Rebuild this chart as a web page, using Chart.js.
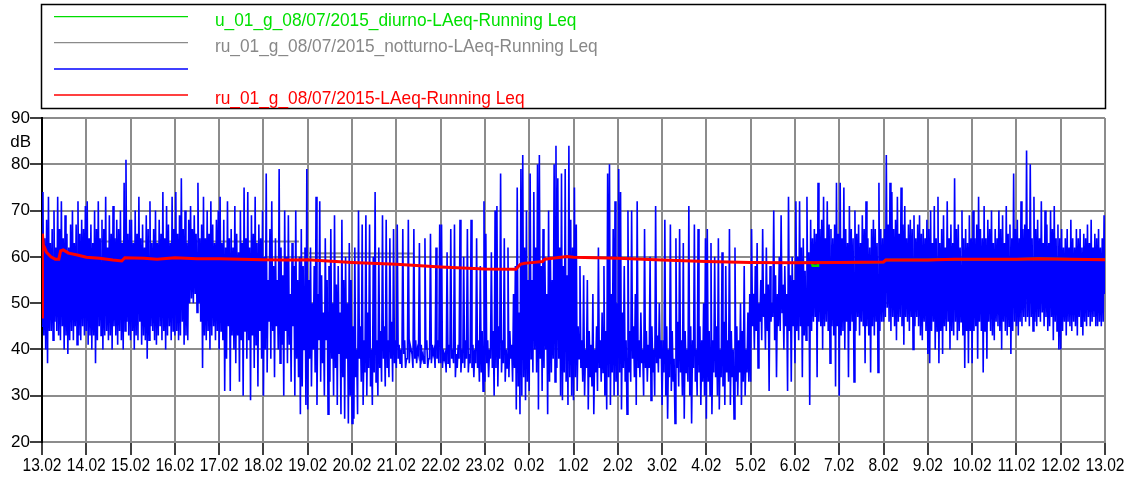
<!DOCTYPE html>
<html><head><meta charset="utf-8">
<script src="https://cdn.jsdelivr.net/npm/chart.js@4/dist/chart.umd.min.js"></script>
<style>html,body{margin:0;padding:0;background:#fff}#wrap{width:1137px;height:479px;position:relative}</style>
</head><body><div id="wrap"><canvas id="c" width="1137" height="479"></canvas></div>
<script>
// ---- data ----
const tickLabels = ['13.02','14.02','15.02','16.02','17.02','18.02','19.02','20.02','21.02','22.02','23.02','0.02',
  '1.02','2.02','3.02','4.02','5.02','6.02','7.02','8.02','9.02','10.02','11.02','12.02','13.02'];
const seriesLabels = ['u_01_g_08/07/2015_diurno-LAeq-Running Leq','ru_01_g_08/07/2015_notturno-LAeq-Running Leq','','ru_01_g_08/07/2015-LAeq-Running Leq'];
const yTicksDb = [20,30,40,50,60,70,80,90];
const unitLabel = 'dB';
const blueSamplesPerHour = 48;
const blueLevels = [
45,74,43,64,40,68,37,73,44,63,44,66,42,70,46,62,44,73,43,66,42,72,45,64,40,69,43,65,39,62,42,67,44,70,42,63,45,67,41,72,43,65,42,68,45,66,43,71,
44,72,41,64,43,67,40,63,43,70,37,66,42,72,45,64,43,68,40,66,43,73,44,62,42,69,43,65,40,71,45,64,43,68,41,66,44,70,42,63,40,76,44,81,46,65,43,68,
42,68,44,63,40,70,43,65,42,73,46,64,41,67,43,62,42,69,38,66,42,72,45,63,44,66,42,70,41,63,43,68,45,65,42,74,44,64,40,71,43,67,45,63,42,73,44,66,
43,74,44,65,42,69,43,77,46,66,41,70,43,63,42,68,50,71,51,66,50,69,52,65,48,76,50,64,46,67,36,73,43,64,42,70,44,65,40,72,43,67,45,63,42,68,44,70,
40,73,44,63,42,68,31,62,38,72,45,64,31,66,43,62,40,71,37,65,43,61,33,70,42,63,30,75,44,64,38,74,42,62,29,69,43,65,36,73,41,63,32,67,44,64,38,70,
30,60,40,78,35,55,46,66,38,72,44,58,34,64,45,55,40,79,37,62,41,56,30,70,44,60,37,69,41,52,33,63,45,58,30,70,38,55,34,60,26,66,32,58,40,62,28,79,
27,55,38,62,32,50,40,58,35,73,28,52,42,72,33,56,37,48,30,64,42,55,26,58,33,66,38,50,30,69,36,54,28,58,39,48,26,68,34,55,25,60,38,50,24,63,30,55,
24,45,25,62,34,40,26,70,38,45,33,67,28,42,35,69,30,48,36,67,32,40,28,60,35,74,33,42,30,62,36,44,33,69,38,45,32,68,36,42,34,64,38,46,33,66,37,42,
36,67,38,41,37,40,36,66,39,42,36,38,38,68,37,41,40,39,36,66,38,42,37,40,39,63,36,41,38,39,37,64,40,42,36,38,38,65,37,41,39,40,36,62,38,42,37,67,
37,67,36,40,38,39,35,61,37,41,36,66,38,40,37,67,34,39,36,41,38,68,35,40,37,60,36,42,38,66,35,39,37,68,36,41,34,40,37,64,36,42,33,58,35,44,31,72,
33,65,37,42,34,40,38,61,36,44,30,70,36,71,32,45,38,78,35,42,37,64,33,40,36,62,34,44,38,41,33,52,36,58,27,75,32,48,26,79,30,82,34,62,29,70,33,55,
31,78,38,55,35,74,40,62,35,80,27,82,38,58,31,66,36,60,40,52,26,70,33,60,35,55,38,80,33,84,36,77,38,62,30,78,29,58,35,79,33,56,28,84,34,68,30,62,
29,75,34,67,31,45,38,58,36,42,33,56,30,40,36,55,27,44,34,41,32,52,26,40,35,45,31,62,36,42,33,48,35,58,30,44,27,78,34,80,28,52,35,66,30,72,33,50,
30,79,35,74,27,48,36,58,33,42,26,70,35,44,33,70,38,45,34,52,28,72,36,42,34,48,37,40,30,66,36,44,33,41,36,60,29,45,35,40,30,71,37,43,35,50,38,42,
28,42,35,68,30,45,25,40,34,67,31,44,33,38,24,64,36,46,32,66,35,42,30,63,25,44,35,40,33,71,30,45,24,42,36,67,33,40,30,66,35,45,28,42,33,50,30,64,
25,66,33,44,30,63,26,42,35,60,34,45,30,64,27,40,34,61,32,46,28,58,35,42,33,66,28,44,34,40,25,62,33,45,30,42,35,50,28,44,33,58,30,40,35,48,33,52,
33,66,45,52,40,58,44,63,36,50,46,55,42,66,47,52,40,62,44,54,31,58,46,50,47,70,42,56,34,52,45,60,44,69,48,54,40,58,45,52,31,73,44,56,33,60,45,55,
37,72,44,60,42,72,45,62,34,64,43,57,42,73,45,61,28,68,44,64,46,66,47,65,34,76,46,66,45,68,40,73,45,64,46,72,44,67,37,66,45,64,43,67,32,76,45,65,
30,76,43,64,44,75,40,66,46,63,34,71,44,66,46,64,33,70,44,65,47,67,43,63,46,69,45,66,37,72,45,64,43,62,35,66,45,68,43,66,46,63,35,76,44,66,46,64,
46,66,47,82,49,67,46,76,44,74,47,66,45,68,42,73,46,65,47,75,45,67,41,71,47,64,46,67,44,68,47,66,40,69,45,64,47,67,45,69,43,65,42,66,46,64,44,68,
39,66,37,70,44,63,46,71,40,64,44,73,37,63,44,66,39,69,45,62,44,72,46,64,40,67,44,63,43,77,46,66,42,67,44,62,46,70,43,64,36,66,44,63,37,69,44,64,
37,70,44,64,45,67,38,73,46,66,44,64,35,71,44,64,38,68,46,66,44,70,43,63,42,66,46,64,45,70,44,66,40,69,46,63,44,71,43,65,45,67,39,64,44,78,46,66,
45,68,43,64,46,72,45,66,47,67,46,83,47,66,45,80,47,64,44,73,46,66,45,68,47,64,46,72,48,63,45,70,47,67,44,63,45,70,47,66,42,71,46,64,44,67,40,64,
40,66,44,62,46,64,43,66,46,62,45,68,44,64,46,62,45,66,43,64,47,66,45,62,43,65,46,64,45,67,47,63,45,68,46,62,47,65,45,64,45,66,46,62,45,64,46,69,
52];
const redTimes  = [0,0.01,0.03,0.06,0.1,0.15,0.2,0.3,0.38,0.42,0.48,0.6,0.8,1.0,1.3,1.6,1.8,1.87,2.3,2.6,3.0,3.5,4.0,4.5,5.0,5.5,6.0,7.0,8.0,9.0,10.0,10.7,10.8,10.9,11.0,11.3,11.35,11.85,12,13,14,15,16,17,18,19,19.05,20,20.6,22,22.5,24];
const redLevels = [47,65,62.5,62,61,60.5,60,59.5,59.5,61.3,61.5,60.8,60.4,59.9,59.7,59.3,59.1,59.8,59.7,59.5,59.8,59.6,59.6,59.5,59.4,59.3,59.4,58.8,58.4,57.8,57.4,57.3,58.4,58.6,58.7,59.0,59.5,60.1,59.9,59.7,59.3,59.0,58.8,58.7,58.8,58.9,59.3,59.3,59.5,59.5,59.6,59.4];
const greenTimes  = [17.0,17.38,17.4,17.5,17.52,18,19,19.05,20,20.6,22,22.5,24];
const greenLevels = [58.7,58.7,58.1,58.1,58.7,58.8,58.9,59.3,59.3,59.5,59.5,59.6,59.4];
const greyTimes  = [1.3,5.8,5.8,5.85,8.4];
const greyLevels = [63.3,63.3,null,60.8,60.7];

// ---- build ----
const pts = (t, v) => t.map((x, i) => ({x, y: v[i]}));
const bluePts = blueLevels.map((v, i) => ({x: i / blueSamplesPerHour, y: v}));
const sans = '"Liberation Sans",Arial,sans-serif';

function condensedText(ctx, text, x, y, sx) {
  ctx.save();
  ctx.translate(x, y);
  ctx.scale(sx, 1);
  ctx.fillText(text, 0, 0);
  ctx.restore();
}

const decorations = {
  id: 'decorations',
  afterDraw(chart) {
    const ctx = chart.ctx;
    ctx.save();
    // legend
    ctx.strokeStyle = '#000'; ctx.lineWidth = 1.5;
    ctx.strokeRect(41.5, 4.5, 1064, 104);
    const rowY = [16.7, 42.7, 69, 95];
    chart.data.datasets.forEach((ds, i) => {
      ctx.strokeStyle = ds.borderColor;
      ctx.lineWidth = ds.legendWidth;
      ctx.beginPath(); ctx.moveTo(54, rowY[i]); ctx.lineTo(188, rowY[i]); ctx.stroke();
      if (ds.label) {
        ctx.fillStyle = ds.legendText;
        ctx.font = '19px ' + sans;
        ctx.textAlign = 'left'; ctx.textBaseline = 'alphabetic';
        condensedText(ctx, ds.label, 215, rowY[i] + 9, 0.91);
      }
    });
    // unit label
    ctx.fillStyle = '#000'; ctx.font = '17px ' + sans;
    ctx.textAlign = 'right'; ctx.textBaseline = 'alphabetic';
    ctx.fillText(unitLabel, 31, 147);
    // x tick labels (condensed)
    const xs = chart.scales.x;
    ctx.font = '19px ' + sans; ctx.textAlign = 'center';
    tickLabels.forEach((lab, i) => {
      condensedText(ctx, lab, xs.getPixelForValue(i), 471, 0.82);
    });
    ctx.restore();
  }
};

new Chart(document.getElementById('c'), {
  type: 'line',
  data: {
    datasets: [
      {label: seriesLabels[0], data: pts(greenTimes, greenLevels), borderColor: '#00dd00', legendText: '#00e000', legendWidth: 1.2, borderWidth: 2.5, order: 1},
      {label: seriesLabels[1], data: pts(greyTimes, greyLevels), borderColor: '#8a8a8a', legendText: '#888888', legendWidth: 1.2, borderWidth: 2, order: 3, spanGaps: false},
      {label: seriesLabels[2], data: bluePts, borderColor: '#0000ff', legendText: '#0000ff', legendWidth: 1.5, borderWidth: 1.6, order: 2},
      {label: seriesLabels[3], data: pts(redTimes, redLevels), borderColor: '#ff0000', legendText: '#ff0000', legendWidth: 1.5, borderWidth: 3, order: 0}
    ]
  },
  options: {
    responsive: false, animation: false, devicePixelRatio: 1,
    parsing: false, normalized: true,
    elements: {point: {radius: 0}, line: {tension: 0, borderJoinStyle: 'miter'}},
    layout: {padding: {top: 118, left: 0, right: 32, bottom: 0}},
    plugins: {legend: {display: false}, tooltip: {enabled: false}, title: {display: false}},
    scales: {
      x: {
        type: 'linear', min: 0, max: tickLabels.length - 1,
        afterBuildTicks: s => { s.ticks = tickLabels.map((_, i) => ({value: i})); },
        afterFit: s => { s.height = 37; },
        ticks: {display: false, autoSkip: false, maxRotation: 0},
        grid: {color: '#8c8c8c', lineWidth: 2, tickLength: 13, tickColor: '#000', tickWidth: 1.5},
        border: {color: '#8c8c8c', width: 2}
      },
      y: {
        type: 'linear', min: yTicksDb[0], max: yTicksDb[yTicksDb.length - 1],
        afterBuildTicks: s => { s.ticks = yTicksDb.map(v => ({value: v})); },
        afterFit: s => { s.width = 42; },
        ticks: {padding: 0, color: '#000', font: {family: sans, size: 17}},
        grid: {color: '#8c8c8c', lineWidth: 2, tickLength: 12, tickColor: '#000', tickWidth: 1.5},
        border: {color: '#000', width: 2}
      }
    }
  },
  plugins: [decorations]
});
</script></body></html>
